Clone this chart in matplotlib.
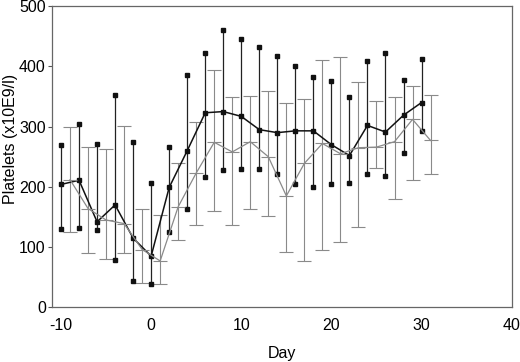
import numpy as np
import matplotlib
matplotlib.use("Agg")
import matplotlib.pyplot as plt

plt.rcParams["font.family"] = ["Liberation Sans", "DejaVu Sans"]
plt.rcParams["axes.unicode_minus"] = False

# series 1 (black, squares) - even days
days_a = [-10, -8, -6, -4, -2, 0, 2, 4, 6, 8, 10, 12, 14, 16, 18, 20, 22, 24, 26, 28, 30]
mean_a = [204, 211, 142, 170, 115, 85, 199, 260, 323, 325, 317, 295, 290, 293, 293, 270, 252, 302, 291, 319, 340]
upper_a = [270, 304, 271, 353, 275, 207, 267, 385, 422, 460, 446, 433, 418, 401, 383, 376, 349, 409, 423, 377, 412]
lower_a = [130, 131, 129, 79, 44, 38, 125, 163, 217, 228, 229, 229, 222, 204, 200, 204, 206, 221, 218, 257, 292]

# series 2 (grey, crosses) - odd days
days_b = [-9, -7, -5, -3, -1, 1, 3, 5, 7, 9, 11, 13, 15, 17, 19, 21, 23, 25, 27, 29, 31]
mean_b = [212, 164, 145, 139, 96, 77, 167, 223, 274, 258, 275, 250, 185, 239, 272, 255, 265, 266, 275, 312, 277]
upper_b = [300, 267, 263, 301, 163, 154, 240, 308, 394, 350, 351, 359, 339, 346, 410, 416, 374, 342, 350, 368, 352]
lower_b = [125, 90, 80, 90, 41, 38, 112, 136, 160, 136, 164, 152, 92, 77, 96, 109, 134, 231, 180, 212, 222]

fig = plt.figure(figsize=(5.2, 3.62), dpi=100)
ax = fig.add_axes([0.1, 0.151, 0.884, 0.832])

grey = "#8a8a8a"
ma, ua, la = np.array(mean_a), np.array(upper_a), np.array(lower_a)
mb, ub, lb = np.array(mean_b), np.array(upper_b), np.array(lower_b)

# grey series
ax.errorbar(days_b, mb, yerr=[mb - lb, ub - mb], color=grey, ecolor=grey,
            elinewidth=0.8, lw=0.9, capsize=5, capthick=0.8,
            marker="_", ms=10, mew=0.8)

# black series
ax.vlines(days_a, la, ua, color="#222222", lw=0.9)
ax.plot(days_a, ma, color="#111111", lw=1.1, marker="s", ms=3.2)
ax.plot(days_a, ua, "s", color="#111111", ms=3.2)
ax.plot(days_a, la, "s", color="#111111", ms=3.2)

ax.set_xlim(-11, 40)
ax.set_ylim(0, 500)
ax.set_xticks([-10, 0, 10, 20, 30, 40])
ax.set_yticks([0, 100, 200, 300, 400, 500])
ax.tick_params(axis="y", length=3, width=0.8, color="#555555", labelsize=11.5, pad=1.5)
ax.tick_params(axis="x", length=0, labelsize=11.5, pad=8)
for s in ax.spines.values():
    s.set_color("#666666")
    s.set_linewidth(0.9)

ax.set_xlabel("Day", fontsize=11.5, labelpad=9)
ax.set_ylabel("Platelets (x10E9/l)", fontsize=11.5)
ax.yaxis.set_label_coords(-0.075, 0.56)

fig.savefig("out.png", dpi=100)
